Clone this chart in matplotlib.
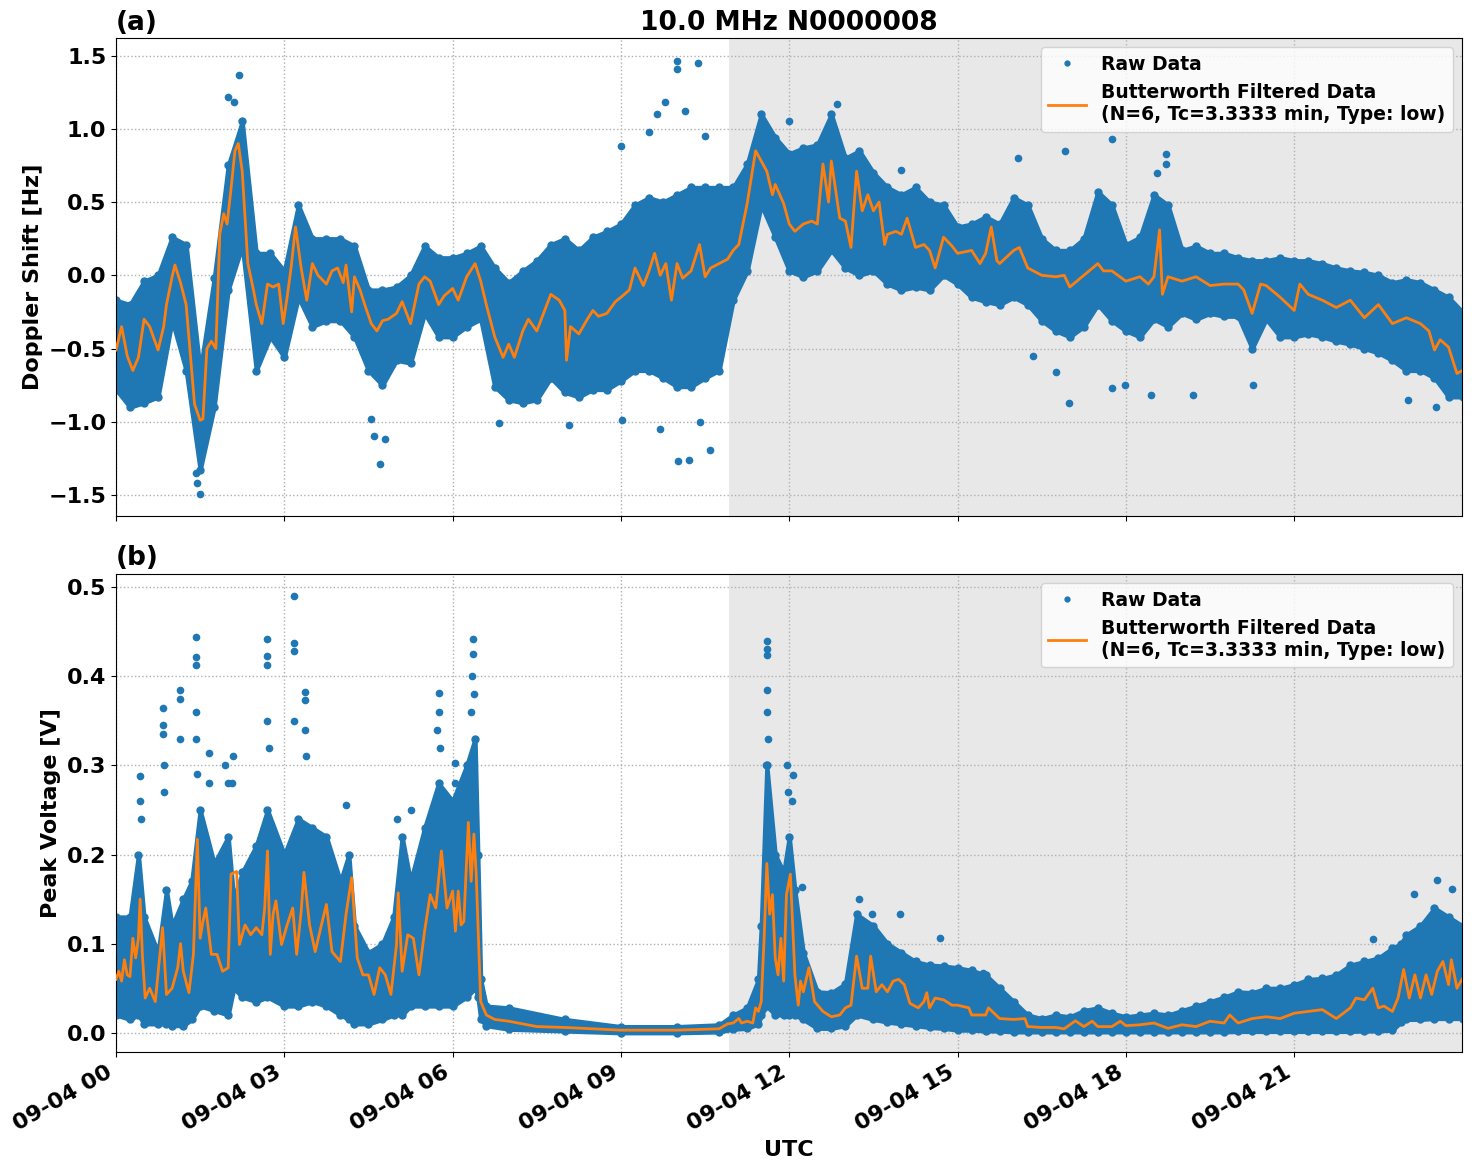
import numpy as np
import pandas as pd
import matplotlib
matplotlib.use("Agg")
import matplotlib.pyplot as plt
import matplotlib.dates as mdates
from matplotlib.lines import Line2D

plt.rcParams["font.weight"] = "bold"
plt.rcParams["axes.labelweight"] = "bold"
plt.rcParams["axes.titleweight"] = "bold"

DAY = pd.Timestamp("2024-09-04")
SHADE_START_H = 10.93

# ── (a) Doppler shift ─────────────────────────────────────────────────────────
dop_filt_h = [0.0, 0.1, 0.2, 0.3, 0.4, 0.5, 0.6, 0.75, 0.85, 0.9, 1.0, 1.05, 1.15, 1.25, 1.4, 1.5, 1.55,
              1.62, 1.7, 1.78, 1.85, 1.92, 1.98, 2.05, 2.12, 2.18, 2.25, 2.35, 2.45, 2.5, 2.6, 2.7, 2.8,
              2.9, 2.98, 3.05, 3.12, 3.2, 3.3, 3.4, 3.5, 3.6, 3.75, 3.85, 3.95, 4.05, 4.1, 4.2, 4.25,
              4.35, 4.45, 4.55, 4.65, 4.75, 4.85, 5.0, 5.1, 5.25, 5.4, 5.5, 5.6, 5.75, 5.85, 6.0, 6.1,
              6.25, 6.4, 6.5, 6.6, 6.75, 6.9, 7.0, 7.1, 7.25, 7.35, 7.5, 7.6, 7.75, 7.9, 8.0, 8.03,
              8.1, 8.25, 8.4, 8.5, 8.6, 8.75, 8.9, 9.0, 9.15, 9.25, 9.4, 9.5, 9.6, 9.7, 9.8, 9.9, 10.0,
              10.1, 10.25, 10.4, 10.5, 10.6, 10.75, 10.9, 11.0, 11.1, 11.25, 11.4, 11.5, 11.6, 11.7,
              11.75, 11.9, 12.0, 12.1, 12.25, 12.4, 12.5, 12.6, 12.7, 12.75, 12.9, 13.0, 13.1, 13.2,
              13.3, 13.4, 13.5, 13.6, 13.7, 13.75, 13.9, 14.0, 14.1, 14.25, 14.4, 14.5, 14.6, 14.75,
              14.9, 15.0, 15.25, 15.4, 15.5, 15.6, 15.7, 15.75, 16.0, 16.1, 16.25, 16.5, 16.75, 16.9,
              17.0, 17.25, 17.5, 17.6, 17.75, 18.0, 18.25, 18.4, 18.5, 18.6, 18.65, 18.75, 19.0, 19.25,
              19.5, 19.75, 20.0, 20.1, 20.25, 20.4, 20.5, 20.75, 21.0, 21.1, 21.25, 21.5, 21.75, 22.0,
              22.25, 22.5, 22.75, 23.0, 23.25, 23.4, 23.5, 23.6, 23.75, 23.9, 24.0]
dop_filt = [-0.51, -0.35, -0.55, -0.65, -0.56, -0.30, -0.35, -0.51, -0.35, -0.20, -0.01, 0.07, -0.05,
            -0.20, -0.88, -0.99, -0.98, -0.50, -0.45, -0.50, 0.28, 0.42, 0.35, 0.59, 0.85, 0.90, 0.71,
            0.08, -0.10, -0.20, -0.33, -0.06, -0.08, -0.06, -0.33, -0.15, 0.05, 0.33, 0.05, -0.17,
            0.08, 0.00, -0.06, 0.03, 0.05, -0.05, 0.07, -0.25, -0.01, -0.10, -0.22, -0.33, -0.38,
            -0.31, -0.30, -0.26, -0.18, -0.33, -0.06, -0.01, -0.04, -0.20, -0.14, -0.09, -0.17, -0.01,
            0.08, -0.04, -0.20, -0.42, -0.56, -0.47, -0.56, -0.38, -0.30, -0.38, -0.28, -0.13, -0.17,
            -0.24, -0.58, -0.35, -0.40, -0.30, -0.24, -0.28, -0.26, -0.18, -0.15, -0.10, 0.05, -0.07,
            0.03, 0.15, 0.00, 0.08, -0.17, 0.08, -0.02, 0.03, 0.21, -0.01, 0.05, 0.08, 0.11, 0.17,
            0.21, 0.49, 0.85, 0.78, 0.71, 0.55, 0.62, 0.49, 0.35, 0.30, 0.35, 0.37, 0.35, 0.76, 0.50,
            0.78, 0.39, 0.37, 0.19, 0.71, 0.44, 0.55, 0.44, 0.50, 0.21, 0.28, 0.30, 0.28, 0.39, 0.19,
            0.21, 0.17, 0.05, 0.26, 0.20, 0.15, 0.17, 0.08, 0.15, 0.33, 0.10, 0.08, 0.17, 0.19, 0.05,
            0.00, -0.01, 0.00, -0.08, 0.00, 0.08, 0.03, 0.03, -0.04, -0.01, -0.06, -0.01, 0.31, -0.13,
            -0.01, -0.04, -0.01, -0.07, -0.06, -0.06, -0.10, -0.26, -0.06, -0.07, -0.15, -0.24, -0.06,
            -0.13, -0.17, -0.22, -0.17, -0.29, -0.20, -0.33, -0.29, -0.33, -0.38, -0.51, -0.44, -0.49,
            -0.67, -0.65]

dop_band_h = [0.0, 0.25, 0.5, 0.75, 1.0, 1.25, 1.5, 1.75, 2.0, 2.25, 2.5, 2.75, 3.0, 3.25, 3.5, 3.75,
              4.0, 4.25, 4.5, 4.75, 5.0, 5.25, 5.5, 5.75, 6.0, 6.25, 6.5, 6.75, 7.0, 7.25, 7.5, 7.75,
              8.0, 8.25, 8.5, 8.75, 9.0, 9.25, 9.5, 9.75, 10.0, 10.25, 10.5, 10.75, 11.0, 11.25, 11.5,
              11.75, 12.0, 12.25, 12.5, 12.75, 13.0, 13.25, 13.5, 13.75, 14.0, 14.25, 14.5, 14.75,
              15.0, 15.25, 15.5, 15.75, 16.0, 16.25, 16.5, 16.75, 17.0, 17.25, 17.5, 17.75, 18.0,
              18.25, 18.5, 18.75, 19.0, 19.25, 19.5, 19.75, 20.0, 20.25, 20.5, 20.75, 21.0, 21.25,
              21.5, 21.75, 22.0, 22.25, 22.5, 22.75, 23.0, 23.25, 23.5, 23.75, 24.0]
dop_high = [-0.17, -0.20, -0.04, 0.00, 0.26, 0.21, -0.65, -0.02, 0.75, 1.05, 0.15, 0.15, 0.03, 0.48,
            0.25, 0.25, 0.25, 0.20, -0.10, -0.10, -0.08, 0.00, 0.20, 0.12, 0.12, 0.15, 0.20, 0.05,
            -0.05, 0.03, 0.10, 0.21, 0.25, 0.17, 0.26, 0.30, 0.35, 0.48, 0.53, 0.50, 0.55, 0.60, 0.60,
            0.60, 0.60, 0.76, 1.10, 0.94, 0.83, 0.87, 0.89, 1.10, 0.80, 0.85, 0.70, 0.60, 0.55, 0.60,
            0.50, 0.48, 0.33, 0.35, 0.40, 0.35, 0.53, 0.48, 0.25, 0.17, 0.17, 0.25, 0.57, 0.48, 0.21,
            0.26, 0.55, 0.48, 0.17, 0.20, 0.15, 0.15, 0.12, 0.10, 0.10, 0.12, 0.10, 0.10, 0.08, 0.05,
            0.03, 0.02, 0.00, -0.05, -0.03, -0.05, -0.10, -0.15, -0.25]
dop_low = [-0.78, -0.90, -0.87, -0.83, -0.31, -0.65, -1.33, -0.90, -0.10, 0.20, -0.65, -0.42, -0.56,
           -0.15, -0.35, -0.31, -0.31, -0.42, -0.65, -0.75, -0.58, -0.60, -0.26, -0.42, -0.42, -0.35,
           -0.30, -0.76, -0.85, -0.87, -0.85, -0.70, -0.80, -0.83, -0.78, -0.78, -0.72, -0.65, -0.65,
           -0.70, -0.76, -0.76, -0.70, -0.65, -0.17, 0.03, 0.48, 0.26, 0.03, -0.01, 0.03, 0.17, 0.05,
           0.00, 0.03, -0.06, -0.10, -0.08, -0.10, 0.00, -0.06, -0.15, -0.18, -0.20, -0.15, -0.20,
           -0.31, -0.38, -0.42, -0.35, -0.20, -0.31, -0.38, -0.42, -0.30, -0.35, -0.26, -0.30, -0.26,
           -0.28, -0.28, -0.50, -0.30, -0.42, -0.42, -0.40, -0.42, -0.45, -0.47, -0.50, -0.53, -0.58,
           -0.65, -0.65, -0.70, -0.83, -0.83]

dop_out_h = [2.2, 2.0, 2.1, 1.5, 1.45, 1.42, 4.71, 4.6, 4.8, 4.55, 10.0, 10.0, 10.38, 9.78, 9.0, 9.5,
             9.65, 10.15, 10.5, 10.01, 10.22, 10.58, 9.7, 10.4, 6.83, 8.08, 9.01, 17.75, 16.99, 16.92,
             17.75, 17.99, 16.75, 16.07, 16.34, 18.72, 18.72, 18.44, 19.2, 20.27, 23.02, 23.53, 12.0,
             12.85, 14.0, 18.55]
dop_out = [1.37, 1.22, 1.18, -1.49, -1.42, -1.35, -1.29, -1.10, -1.12, -0.98, 1.46, 1.41, 1.45, 1.18,
           0.88, 0.98, 1.10, 1.12, 0.95, -1.27, -1.26, -1.19, -1.05, -1.00, -1.01, -1.02, -0.99, 0.93,
           -0.87, 0.85, -0.77, -0.75, -0.66, 0.80, -0.55, 0.83, 0.76, -0.82, -0.82, -0.75, -0.85,
           -0.90, 1.05, 1.17, 0.72, 0.70]

# ── (b) Peak voltage ──────────────────────────────────────────────────────────
pv_filt_h = [0.0, 0.05, 0.1, 0.15, 0.2, 0.25, 0.3, 0.35, 0.4, 0.43, 0.47, 0.52, 0.6, 0.7, 0.83, 0.9,
             1.0, 1.1, 1.15, 1.2, 1.3, 1.38, 1.45, 1.5, 1.55, 1.6, 1.7, 1.8, 1.9, 2.0, 2.05, 2.15, 2.2,
             2.3, 2.4, 2.5, 2.6, 2.65, 2.7, 2.75, 2.8, 2.85, 2.95, 3.05, 3.15, 3.22, 3.3, 3.35, 3.45,
             3.55, 3.65, 3.75, 3.85, 4.0, 4.1, 4.2, 4.3, 4.4, 4.5, 4.6, 4.7, 4.8, 4.9, 5.0, 5.03, 5.1,
             5.2, 5.3, 5.4, 5.5, 5.6, 5.7, 5.8, 5.9, 6.0, 6.05, 6.1, 6.15, 6.2, 6.28, 6.33, 6.38, 6.42,
             6.5, 6.6, 6.75, 7.0, 7.5, 8.0, 8.5, 9.0, 9.5, 10.0, 10.5, 10.75, 10.9, 11.0, 11.1, 11.15,
             11.25, 11.35, 11.4, 11.45, 11.5, 11.55, 11.6, 11.65, 11.7, 11.75, 11.8, 11.85, 11.9,
             11.95, 12.02, 12.1, 12.16, 12.2, 12.25, 12.35, 12.45, 12.6, 12.75, 12.9, 13.0, 13.1, 13.2,
             13.3, 13.4, 13.45, 13.55, 13.65, 13.75, 13.85, 13.95, 14.05, 14.15, 14.3, 14.4, 14.45,
             14.5, 14.6, 14.75, 14.9, 15.0, 15.2, 15.25, 15.5, 15.55, 15.75, 16.0, 16.2, 16.25, 16.5,
             16.75, 16.9, 17.0, 17.1, 17.25, 17.4, 17.5, 17.75, 17.9, 18.0, 18.25, 18.5, 18.75, 19.0,
             19.25, 19.5, 19.75, 19.85, 20.0, 20.25, 20.5, 20.75, 21.0, 21.25, 21.5, 21.75, 22.0, 22.1,
             22.25, 22.4, 22.5, 22.6, 22.75, 22.85, 22.95, 23.05, 23.15, 23.25, 23.35, 23.45, 23.55,
             23.65, 23.75, 23.8, 23.9, 24.0]
pv_filt = [0.060, 0.069, 0.058, 0.082, 0.065, 0.063, 0.106, 0.084, 0.106, 0.150, 0.088, 0.039, 0.050,
           0.035, 0.118, 0.043, 0.050, 0.073, 0.100, 0.069, 0.045, 0.088, 0.217, 0.106, 0.125, 0.140,
           0.088, 0.088, 0.069, 0.073, 0.178, 0.181, 0.099, 0.121, 0.110, 0.118, 0.110, 0.140, 0.204,
           0.088, 0.133, 0.148, 0.099, 0.121, 0.140, 0.088, 0.136, 0.180, 0.121, 0.091, 0.118, 0.144,
           0.091, 0.080, 0.133, 0.174, 0.084, 0.065, 0.065, 0.043, 0.073, 0.065, 0.043, 0.099, 0.157,
           0.069, 0.110, 0.106, 0.065, 0.114, 0.155, 0.140, 0.204, 0.140, 0.159, 0.114, 0.159, 0.121,
           0.125, 0.236, 0.170, 0.223, 0.178, 0.035, 0.020, 0.015, 0.013, 0.007, 0.006, 0.0045, 0.003,
           0.003, 0.003, 0.004, 0.0045, 0.010, 0.011, 0.016, 0.011, 0.013, 0.011, 0.028, 0.024, 0.035,
           0.103, 0.190, 0.133, 0.155, 0.084, 0.065, 0.106, 0.058, 0.155, 0.178, 0.065, 0.031, 0.058,
           0.046, 0.073, 0.035, 0.024, 0.018, 0.020, 0.028, 0.031, 0.086, 0.050, 0.050, 0.086, 0.046,
           0.054, 0.046, 0.058, 0.060, 0.054, 0.033, 0.028, 0.035, 0.045, 0.028, 0.039, 0.037, 0.031,
           0.031, 0.028, 0.020, 0.020, 0.028, 0.016, 0.015, 0.016, 0.007, 0.006, 0.006, 0.0045, 0.009,
           0.0135, 0.007, 0.013, 0.007, 0.007, 0.013, 0.008, 0.009, 0.011, 0.005, 0.009, 0.007, 0.013,
           0.011, 0.020, 0.011, 0.016, 0.018, 0.016, 0.022, 0.024, 0.026, 0.016, 0.028, 0.039, 0.037,
           0.050, 0.028, 0.030, 0.024, 0.039, 0.071, 0.039, 0.065, 0.039, 0.065, 0.043, 0.069, 0.080,
           0.054, 0.082, 0.050, 0.061]

pv_band_h = [0.0, 0.25, 0.4, 0.5, 0.75, 0.9, 1.0, 1.2, 1.35, 1.5, 1.75, 2.0, 2.1, 2.25, 2.5, 2.7, 3.0,
             3.25, 3.5, 3.75, 4.0, 4.15, 4.25, 4.5, 4.75, 4.95, 5.1, 5.25, 5.5, 5.75, 6.0, 6.25, 6.4,
             6.45, 6.5, 6.6, 7.0, 8.0, 9.0, 10.0, 10.75, 11.0, 11.25, 11.45, 11.5, 11.6, 11.75, 11.9,
             12.0, 12.1, 12.25, 12.5, 12.75, 13.0, 13.2, 13.5, 13.75, 14.0, 14.25, 14.5, 14.75, 15.0,
             15.25, 15.5, 15.75, 16.0, 16.25, 16.5, 16.75, 17.0, 17.25, 17.5, 17.75, 18.0, 18.25, 18.5,
             18.75, 19.0, 19.25, 19.5, 19.75, 20.0, 20.25, 20.5, 20.75, 21.0, 21.25, 21.5, 21.75, 22.0,
             22.25, 22.5, 22.75, 22.9, 23.0, 23.25, 23.5, 23.75, 24.0]
pv_high = [0.13, 0.13, 0.20, 0.13, 0.09, 0.16, 0.12, 0.15, 0.17, 0.25, 0.19, 0.22, 0.15, 0.18, 0.21,
           0.25, 0.20, 0.24, 0.23, 0.22, 0.17, 0.20, 0.12, 0.09, 0.10, 0.13, 0.22, 0.17, 0.23, 0.28,
           0.26, 0.30, 0.33, 0.20, 0.06, 0.03, 0.028, 0.015, 0.007, 0.007, 0.009, 0.02, 0.028, 0.06,
           0.12, 0.30, 0.20, 0.18, 0.22, 0.16, 0.09, 0.046, 0.045, 0.055, 0.133, 0.12, 0.10, 0.09,
           0.08, 0.076, 0.075, 0.073, 0.07, 0.065, 0.05, 0.035, 0.02, 0.016, 0.02, 0.018, 0.025,
           0.028, 0.022, 0.018, 0.02, 0.022, 0.02, 0.025, 0.03, 0.035, 0.04, 0.046, 0.045, 0.05,
           0.05, 0.054, 0.06, 0.061, 0.065, 0.076, 0.08, 0.084, 0.095, 0.10, 0.11, 0.12, 0.14, 0.13,
           0.12]
pv_low = [0.02, 0.015, 0.02, 0.01, 0.01, 0.01, 0.008, 0.008, 0.015, 0.03, 0.025, 0.02, 0.05, 0.04,
          0.035, 0.04, 0.03, 0.03, 0.035, 0.03, 0.02, 0.015, 0.01, 0.01, 0.015, 0.02, 0.02, 0.03,
          0.03, 0.03, 0.03, 0.04, 0.05, 0.04, 0.015, 0.008, 0.004, 0.002, 0.0, 0.0, 0.001, 0.004,
          0.005, 0.01, 0.02, 0.03, 0.02, 0.02, 0.02, 0.02, 0.015, 0.005, 0.005, 0.008, 0.02, 0.015,
          0.012, 0.01, 0.008, 0.006, 0.005, 0.003, 0.003, 0.002, 0.002, 0.001, 0.001, 0.001, 0.001,
          0.001, 0.001, 0.001, 0.001, 0.001, 0.001, 0.001, 0.001, 0.001, 0.001, 0.001, 0.001, 0.0015,
          0.0015, 0.0015, 0.0015, 0.0015, 0.0015, 0.0015, 0.0015, 0.0015, 0.002, 0.002, 0.003, 0.012,
          0.015, 0.015, 0.016, 0.016, 0.016]

pv_out_h = [3.18, 3.18, 3.18, 3.18, 1.43, 1.43, 1.43, 1.43, 1.43, 1.45, 2.7, 2.7, 2.7, 2.7, 2.72,
            1.14, 1.14, 1.14, 0.84, 0.84, 0.84, 0.86, 0.86, 3.36, 3.36, 3.36, 3.38, 0.42, 0.42, 0.44,
            1.65, 1.65, 2.09, 2.07, 5.75, 5.75, 5.73, 5.77, 6.36, 6.36, 6.35, 6.38, 6.33, 11.61,
            11.61, 11.61, 11.6, 11.6, 11.62, 11.59, 6.04, 6.04, 11.96, 11.98, 12.07, 12.05, 12.22,
            13.25, 13.47, 13.97, 14.69, 15.45, 23.55, 23.14, 23.81, 22.41, 1.95, 2.0, 4.1, 5.0, 5.25]
pv_out = [0.490, 0.437, 0.428, 0.350, 0.444, 0.422, 0.413, 0.360, 0.330, 0.290, 0.442, 0.423, 0.413,
          0.350, 0.320, 0.385, 0.374, 0.330, 0.364, 0.345, 0.335, 0.300, 0.270, 0.382, 0.373, 0.340,
          0.310, 0.288, 0.260, 0.240, 0.314, 0.280, 0.311, 0.280, 0.381, 0.360, 0.340, 0.320, 0.442,
          0.425, 0.400, 0.380, 0.360, 0.440, 0.431, 0.424, 0.384, 0.360, 0.330, 0.300, 0.303, 0.280,
          0.300, 0.270, 0.289, 0.260, 0.163, 0.150, 0.133, 0.133, 0.106, 0.067, 0.171, 0.156, 0.161,
          0.105, 0.300, 0.280, 0.255, 0.240, 0.250]

title = "10.0 MHz N0000008"
legend_labels = ["Raw Data", "Butterworth Filtered Data\n(N=6, Tc=3.3333 min, Type: low)"]
ylabels = ["Doppler Shift [Hz]", "Peak Voltage [V]"]
panel_tags = ["(a)", "(b)"]


def to_time(hours):
    return DAY + pd.to_timedelta(np.asarray(hours, dtype=float), unit="h")


BLUE = "#1f77b4"
ORANGE = "#ff7f0e"

fig, axes = plt.subplots(2, 1, figsize=(14.72, 11.72), dpi=100, sharex=True)
fig.subplots_adjust(left=0.0788, right=0.9932, top=0.9676, bottom=0.1024, hspace=0.12)

panels = [
    (dop_band_h, dop_low, dop_high, dop_out_h, dop_out, dop_filt_h, dop_filt),
    (pv_band_h, pv_low, pv_high, pv_out_h, pv_out, pv_filt_h, pv_filt),
]

for ax, (bh, lo, hi, oh, ov, fh, fv), ylab, tag in zip(axes, panels, ylabels, panel_tags):
    tb = to_time(bh)
    ax.axvspan(to_time([SHADE_START_H])[0], to_time([24])[0], color="gray", alpha=0.18, lw=0, zorder=0)
    ax.fill_between(tb, lo, hi, color=BLUE, lw=3, zorder=2)
    ax.plot(tb, hi, "o", color=BLUE, ms=5, zorder=2)
    ax.plot(tb, lo, "o", color=BLUE, ms=5, zorder=2)
    ax.plot(to_time(oh), ov, "o", color=BLUE, ms=4.5, zorder=2)
    ax.plot(to_time(fh), fv, color=ORANGE, lw=2, zorder=3)

    ax.grid(True, linestyle=":", color="#b0b0b0", lw=1)
    ax.set_axisbelow(True)
    ax.set_ylabel(ylab, fontsize=16)
    ax.set_title(tag, loc="left", fontsize=19)
    ax.tick_params(labelsize=16)

    handles = [Line2D([], [], marker=".", ls="none", color=BLUE, ms=7),
               Line2D([], [], color=ORANGE, lw=2)]
    ax.legend(handles, legend_labels, loc="upper right", fontsize=13.5)

axes[0].set_title(title, fontsize=19)
axes[0].set_ylim(-1.645, 1.62)
axes[1].set_ylim(-0.0215, 0.515)
axes[0].set_yticks([-1.5, -1.0, -0.5, 0.0, 0.5, 1.0, 1.5])

axes[1].set_xlim(to_time([0])[0], to_time([23.99])[0])
axes[1].xaxis.set_major_locator(mdates.HourLocator(byhour=range(0, 24, 3)))
axes[1].xaxis.set_major_formatter(mdates.DateFormatter("%m-%d %H"))
axes[1].set_xlabel("UTC", fontsize=16)
for lbl in axes[1].get_xticklabels():
    lbl.set_rotation(30)
    lbl.set_ha("right")

fig.savefig("out.png", dpi=100)
